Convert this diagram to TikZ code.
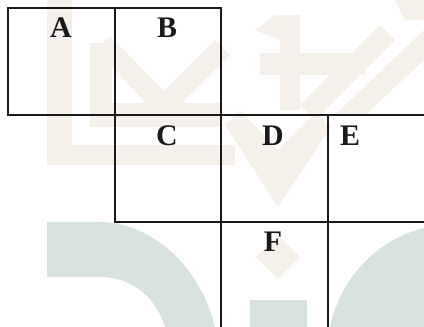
\documentclass[tikz,border=0pt]{standalone}
\usepackage{fontspec}
\setmainfont{Liberation Serif}
\definecolor{wmbeige}{HTML}{F5F0E9}
\definecolor{wmgreen}{HTML}{D8E2DC}
\definecolor{gridline}{HTML}{1A1A1A}
\begin{document}
\begin{tikzpicture}[x=1bp,y=-1bp,
  gridpath/.style={draw=gridline,line width=1.3bp},
  cell/.style={font=\bfseries\fontsize{30}{32}\selectfont,text=gridline,inner sep=0pt,anchor=base},
  beige/.style={fill=wmbeige,draw=none},
  green/.style={fill=wmgreen,draw=none}]
\useasboundingbox (0,0) rectangle (424,327);
% watermark (beige)
\fill[beige] (47,0) rectangle (72,165);
\fill[beige] (47,145) rectangle (235,165);
\fill[beige] (90,43) rectangle (112,127);
\fill[beige] (90,103) rectangle (220,127);
\fill[beige] (95,50) -- (110,36) -- (168,95) -- (153,110) -- cycle;
\fill[beige] (150,105) -- (215,40) -- (230,55) -- (165,120) -- cycle;
\fill[beige] (225,125) -- (240,110) -- (278,150) -- (316,112) -- (331,127) -- (278,207) -- cycle;
\fill[beige] (255,30) -- (275,15) -- (300,15) -- (300,110) -- (280,110) -- (280,40) -- cycle;
\fill[beige] (260,53) rectangle (365,75);
\fill[beige] (300,105) -- (380,25) -- (395,40) -- (315,120) -- cycle;
\fill[beige] (335,115) -- (424,30) -- (424,60) -- (365,115) -- cycle;
\fill[beige] (395,0) -- (424,0) -- (424,20) -- (405,20) -- cycle;
\fill[beige] (278,235) -- (300,257) -- (278,279) -- (256,257) -- cycle;
% watermark (green)
\fill[green] (47,222) -- (100,222) .. controls (150,222) and (200,265) .. (215,327) -- (165,327) .. controls (155,295) and (130,277) .. (100,277) -- (47,277) -- cycle;
\fill[green] (424,228) .. controls (375,240) and (340,280) .. (330,327) -- (424,327) -- cycle;
\fill[green] (250,300) rectangle (307,327);
% grid
\draw[gridpath] (8,8) rectangle (115,115);
\draw[gridpath] (115,8) -- (221,8) -- (221,115);
\draw[gridpath] (8,115) -- (424,115);
\draw[gridpath] (115,8) -- (115,222) -- (424,222);
\draw[gridpath] (221,115) -- (221,327);
\draw[gridpath] (328,115) -- (328,327);
% labels
\node[cell] (a) at (61,37) {A};
\node[cell] (b) at (167,37) {B};
\node[cell] (c) at (167,145) {C};
\node[cell] (d) at (273,145) {D};
\node[cell] (e) at (350,145) {E};
\node[cell] (f) at (273,251) {F};
\end{tikzpicture}
\end{document}
